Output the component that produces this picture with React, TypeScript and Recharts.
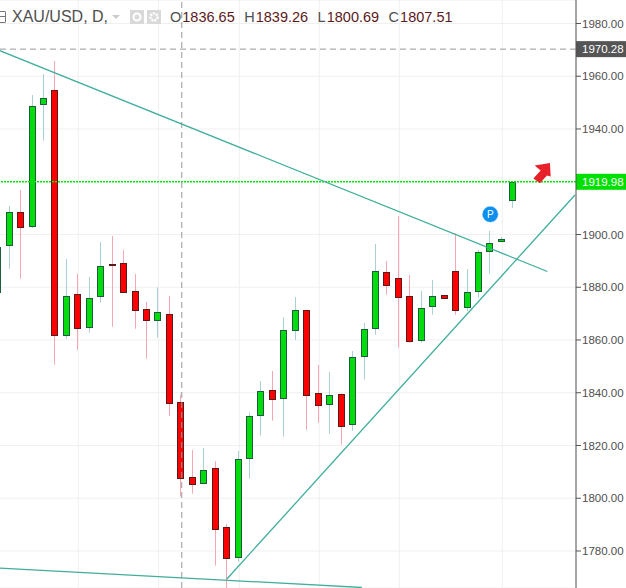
import { ComposedChart, Bar, XAxis, YAxis, CartesianGrid, ReferenceLine, ReferenceDot } from 'recharts'

// one entry per daily candle; the last days are empty space on the right
const days = [0, 1, 2, 3, 4, 5, 6, 7, 8, 9, 10, 11, 12, 13, 14, 15, 16, 17, 18, 19, 20, 21, 22, 23, 24, 25, 26, 27, 28, 29, 30, 31, 32, 33, 34, 35, 36, 37, 38, 39, 40, 41, 42, 43, 44, 45, 46, 47, 48, 49, 50]
const opens = [1878.31, 1895.91, 1908.42, 1903.34, 1949.36, 1954.67, 1862.01, 1877.33, 1865.04, 1876.57, 1888.7, 1889.08, 1878.46, 1871.64, 1867.47, 1869.74, 1836.65, 1807.94, 1805.67, 1811.35, 1788.98, 1777.61, 1815.15, 1831.45, 1840.93, 1837.89, 1863.68, 1871.26, 1839.79, 1835.62, 1839.41, 1828.04, 1853.82, 1864.44, 1885.67, 1883.39, 1876.57, 1859.89, 1872.78, 1876.95, 1886.05, 1872.4, 1878.46, 1893.63, 1897.72, 1912.97]
const highs = [1895.3, 1910.81, 1916.87, 1952.89, 1960.85, 1965.78, 1890.71, 1885.02, 1883.89, 1897.16, 1899.43, 1894.12, 1885.02, 1874.41, 1879.98, 1876.68, 1839.26, 1818.29, 1819.05, 1814.01, 1790.24, 1817.92, 1832.59, 1844.45, 1848.25, 1868.61, 1876.3, 1871.26, 1850.52, 1847.87, 1839.79, 1855.83, 1866.44, 1896.4, 1889.95, 1907.01, 1884.64, 1878.58, 1882.75, 1876.95, 1900.45, 1886.92, 1894.12, 1901.33, 1899.05, 1920.28]
const lows = [1878.3, 1887.03, 1883.24, 1902.46, 1935.56, 1850.63, 1860.38, 1856.32, 1862.77, 1874.14, 1865.04, 1877.93, 1864.28, 1852.91, 1860.87, 1831.18, 1800.69, 1801.72, 1805.67, 1774.43, 1766, 1775.94, 1807.41, 1823.71, 1829.4, 1823.33, 1860, 1825.99, 1828.64, 1824.47, 1820.3, 1825.61, 1844.95, 1862.01, 1877.17, 1857.08, 1858.98, 1858.98, 1869.59, 1875.81, 1869.59, 1870.99, 1876.04, 1885.14, 1897.53, 1910.05]
const closes = [1895.26, 1908.42, 1902.96, 1948.61, 1951.64, 1861.78, 1876.57, 1864.66, 1875.81, 1887.94, 1888.44, 1878.31, 1871.26, 1867.47, 1870.5, 1836, 1807.51, 1805.29, 1810.6, 1788.22, 1777.23, 1814.77, 1831.07, 1840.55, 1837.52, 1863.68, 1871.26, 1839.03, 1835.24, 1839.03, 1827.28, 1853.44, 1864.05, 1886.16, 1880.74, 1876.19, 1859.51, 1872.02, 1876.57, 1875.81, 1871.26, 1878.08, 1893.25, 1896.66, 1898.11, 1919.98]

const priceTicks = [1780, 1800, 1820, 1840, 1860, 1880, 1900, 1940, 1960, 1980]
const gridDays = [7.02, 14.03, 21.09, 28.07, 35.07, 44.06]
const headerValues = [
  ['O', '1836.65'],
  ['H', '1839.26'],
  ['L', '1800.69'],
  ['C', '1807.51'],
]

const lastPrice = 1919.98
const prevClose = 1970.28
const crosshairDay = 16.06

const fallingLine = [{ x: 0, y: 1970 }, { x: 48, y: 1885.97 }]
const risingLine = [{ x: 20, y: 1769.38 }, { x: 50.41, y: 1914.98 }]
const supportLine = [{ x: 0, y: 1773.55 }, { x: 31.8, y: 1766.16 }]

const rows = days.map((day, i) => ({
  day,
  open: opens[i],
  close: closes[i],
  range: highs[i] === undefined ? null : [lows[i], highs[i]],
}))

const font = '"Liberation Sans", Arial, sans-serif'

function Candle(props: any) {
  const { x, y, width, height, payload } = props
  if (!payload.range) return null
  const [low, high] = payload.range
  const perUnit = height / (high - low)
  const mid = Math.floor(x + width / 2) + 0.5
  const up = payload.close >= payload.open
  const top = Math.round(y + (high - Math.max(payload.open, payload.close)) * perUnit) + 0.5
  const bottom = Math.round(y + (high - Math.min(payload.open, payload.close)) * perUnit) + 0.5
  return (
    <g>
      <line x1={mid} x2={mid} y1={y} y2={y + height} stroke={up ? '#a9d0d3' : '#f7a7b3'} strokeWidth={1} />
      <rect
        x={mid - 3}
        y={top}
        width={6}
        height={Math.max(bottom - top, 0)}
        fill={up ? '#00dc0c' : '#ff0000'}
        stroke={up ? '#1f5c3d' : '#5a1a1a'}
        strokeWidth={1}
      />
    </g>
  )
}

function priceTag(text: string, color: string) {
  return (props: any) => {
    const { viewBox } = props
    const right = viewBox.x + viewBox.width
    return (
      <g>
        <rect x={right} y={viewBox.y - 8} width={50} height={16} fill={color} />
        <text x={right + 6} y={viewBox.y + 4} fill="#fff" fontSize={11.5} fontFamily={font}>{text}</text>
      </g>
    )
  }
}

function UpArrow({ cx, cy }: any) {
  const pts = [[8.3, -10.3], [-7, -7.7], [-1, -2.7], [-8.3, 5.3], [-1.7, 10], [5.3, 2.3], [9, 3.3]]
  return <polygon points={pts.map(p => `${cx + p[0]},${cy + p[1]}`).join(' ')} fill="#e8202a" />
}

function PositionBubble({ cx, cy }: any) {
  return (
    <g>
      <circle cx={cx} cy={cy} r={8} fill="#0d8fee" stroke="#cfe6f8" strokeWidth={0.5} />
      <text x={cx} y={cy + 3.5} textAnchor="middle" fill="#fff" fontSize={10} fontFamily={font}>P</text>
    </g>
  )
}

function Header() {
  return (
    <div style={{ position: 'absolute', left: 0, top: 0, width: 576, height: 34, fontFamily: font, color: '#4f4f4f', pointerEvents: 'none' }}>
      <div style={{ position: 'absolute', left: -6, top: 11, width: 10, height: 10, border: '1px solid #777', borderRadius: 1 }} />
      <div style={{ position: 'absolute', left: 0, top: 16, width: 5, height: 1, background: '#777' }} />
      <span style={{ position: 'absolute', left: 12, top: 8, fontSize: 16, whiteSpace: 'nowrap' }}>XAU/USD, D,</span>
      <div style={{ position: 'absolute', left: 112, top: 15, width: 0, height: 0, borderLeft: '4px solid transparent', borderRight: '4px solid transparent', borderTop: '4px solid #ccc' }} />
      <svg style={{ position: 'absolute', left: 130, top: 10 }} width={31} height={14}>
        <rect width={14} height={14} fill="#d9d9d9" />
        <circle cx={7} cy={7} r={3.5} fill="none" stroke="#fff" strokeWidth={2} />
        <rect x={17} width={14} height={14} fill="#d9d9d9" />
        <circle cx={24} cy={7} r={3.5} fill="none" stroke="#fff" strokeWidth={2.5} strokeDasharray="2 1" />
      </svg>
      <div style={{ position: 'absolute', left: 170, top: 9, display: 'flex', gap: 9.5, fontSize: 14.5, whiteSpace: 'nowrap' }}>
        {headerValues.map(([label, value]) => (
          <span key={label}>
            {label}<span style={{ color: '#5b1a1a', marginLeft: 1 }}>{value}</span>
          </span>
        ))}
      </div>
    </div>
  )
}

export default function App() {
  return (
    <div style={{ position: 'absolute', left: 0, top: 0, width: 626, height: 588, overflow: 'hidden', background: '#fff' }}>
      <ComposedChart
        width={626}
        height={588}
        data={rows}
        margin={{ top: 0, right: 0, bottom: 0, left: -7.8 }}
        barCategoryGap={0}
      >
        <CartesianGrid xAxisId="pos" stroke="#f0f0f0" strokeWidth={1} />
        <XAxis dataKey="day" hide padding={{ left: 0, right: 0 }} />
        <XAxis xAxisId="pos" dataKey="day" type="number" domain={[-0.5, 50.5]} ticks={gridDays} hide allowDataOverflow />
        <YAxis
          orientation="right"
          width={50}
          domain={[1765.97, 1988.91]}
          ticks={priceTicks}
          allowDataOverflow
          interval={0}
          tickFormatter={(v: number) => v.toFixed(2)}
          tick={{ fill: '#4f4f4f', fontSize: 11.5, fontFamily: font }}
          tickSize={5}
          tickMargin={1}
          axisLine={{ stroke: '#555' }}
          tickLine={{ stroke: '#555' }}
        />
        <Bar dataKey="range" shape={Candle} isAnimationActive={false} />
        <ReferenceLine y={prevClose} xAxisId="pos" stroke="#999" strokeDasharray="6 4" label={priceTag('1970.28', '#555555')} />
        <ReferenceLine y={lastPrice} xAxisId="pos" stroke="#00e800" strokeWidth={1.5} strokeDasharray="2 1" label={priceTag('1919.98', '#00e000')} />
        <ReferenceLine x={crosshairDay} xAxisId="pos" stroke="#999" strokeDasharray="6 4" />
        <ReferenceLine segment={fallingLine} xAxisId="pos" stroke="#3fae9a" strokeWidth={1.3} />
        <ReferenceLine segment={risingLine} xAxisId="pos" stroke="#3fae9a" strokeWidth={1.3} />
        <ReferenceLine segment={supportLine} xAxisId="pos" stroke="#3fae9a" strokeWidth={1.3} />
        <ReferenceDot x={47.5} y={1923.2} xAxisId="pos" shape={UpArrow} />
        <ReferenceDot x={43.01} y={1907.66} xAxisId="pos" shape={PositionBubble} />
      </ComposedChart>
      <Header />
    </div>
  )
}
